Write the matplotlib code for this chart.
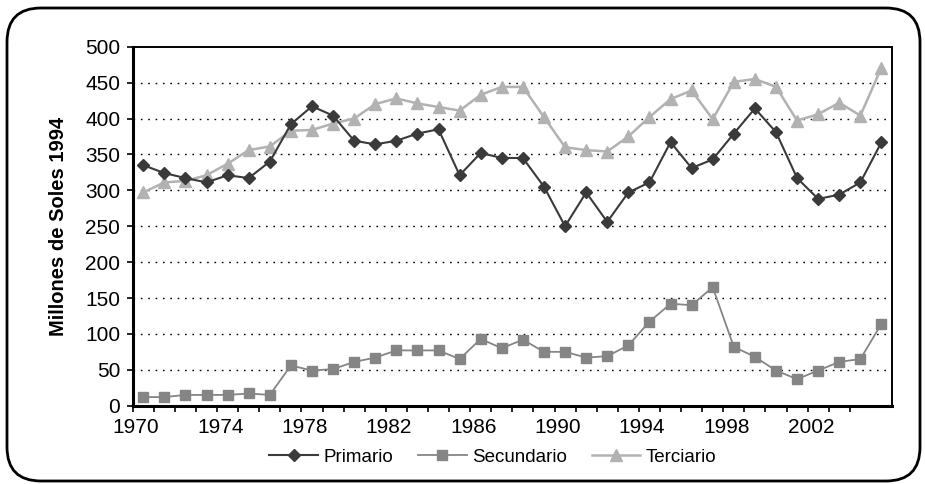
import matplotlib
matplotlib.use("Agg")
import matplotlib.pyplot as plt
from matplotlib.patches import FancyBboxPatch
from matplotlib.transforms import IdentityTransform

plt.rcParams['font.family'] = ['Liberation Sans', 'DejaVu Sans']

years = list(range(1970, 2006))

primario = [335, 324, 317, 311, 321, 317, 340, 392, 417, 404,
            369, 364, 369, 379, 385, 321, 352, 345, 345, 305,
            250, 297, 256, 297, 311, 367, 331, 343, 379, 414,
            381, 317, 288, 294, 311, 367]

secundario = [12, 12, 15, 15, 15, 17, 15, 56, 49, 51,
              61, 67, 77, 77, 77, 65, 93, 80, 92, 75,
              75, 67, 69, 84, 117, 142, 140, 165, 82, 68,
              49, 37, 49, 61, 65, 114]

terciario = [297, 311, 313, 321, 337, 356, 361, 383, 384, 393,
             400, 420, 428, 421, 416, 411, 433, 444, 444, 402,
             360, 356, 354, 375, 402, 427, 439, 399, 451, 455,
             444, 397, 406, 422, 404, 471]

tick_years = [1970, 1974, 1978, 1982, 1986, 1990, 1994, 1998, 2002]
y_ticks = list(range(0, 501, 50))


def main():
    dpi = 100
    fig = plt.figure(figsize=(925 / dpi, 484 / dpi), dpi=dpi)
    ax = fig.add_axes([132.7 / 925, 1 - 405.7 / 484,
                       (892 - 132.7) / 925, (405.7 - 46.7) / 484])

    ax.plot(years, primario, color='#3a3a3a', lw=1.5, marker='D', ms=6,
            mec='#3a3a3a', mfc='#3a3a3a', label='Primario', zorder=4)
    ax.plot(years, secundario, color='#858585', lw=1.3, marker='s', ms=6.5,
            mec='#858585', mfc='#858585', label='Secundario', zorder=3)
    ax.plot(years, terciario, color='#b2b2b2', lw=1.8, marker='^', ms=8,
            mec='#b2b2b2', mfc='#b2b2b2', label='Terciario', zorder=2)

    ax.set_xlim(1969.5, 2005.5)
    ax.set_ylim(0, 500)

    # dotted horizontal grid (not at 0 and 500)
    for v in y_ticks[1:-1]:
        ax.axhline(v, color='black', lw=1.0, ls=(0, (1.2, 4.1)), zorder=1)

    ax.set_yticks(y_ticks)
    ax.tick_params(axis='y', direction='out', length=4, width=1.2,
                   pad=5, labelsize=15)

    ax.set_xticks([y - 0.35 for y in tick_years])
    ax.set_xticklabels([str(y) for y in tick_years])
    ax.set_xticks([y + 0.5 for y in range(1969, 2004)], minor=True)
    ax.tick_params(axis='x', which='major', length=0, pad=9, labelsize=15)
    ax.tick_params(axis='x', which='minor', direction='out', length=4.5,
                   width=1.2)

    for side in ['left', 'bottom']:
        ax.spines[side].set_linewidth(2.2)
    for side in ['top', 'right']:
        ax.spines[side].set_linewidth(1.4)

    ax.set_ylabel('Millones de Soles 1994', fontsize=14.5, fontweight='bold',
                  labelpad=12)

    fig.legend(loc='center', bbox_to_anchor=(493 / 925, 1 - 457 / 484),
               ncol=3, frameon=False, fontsize=13.5, handlelength=2.6,
               handletextpad=0.3, columnspacing=1.3)

    frame = FancyBboxPatch((7, 3), 913, 473,
                           boxstyle='round,pad=0,rounding_size=34',
                           transform=IdentityTransform(), fill=False,
                           lw=2.0, edgecolor='black')
    fig.add_artist(frame)

    fig.savefig('out.png', dpi=dpi)


if __name__ == "__main__":
    main()
